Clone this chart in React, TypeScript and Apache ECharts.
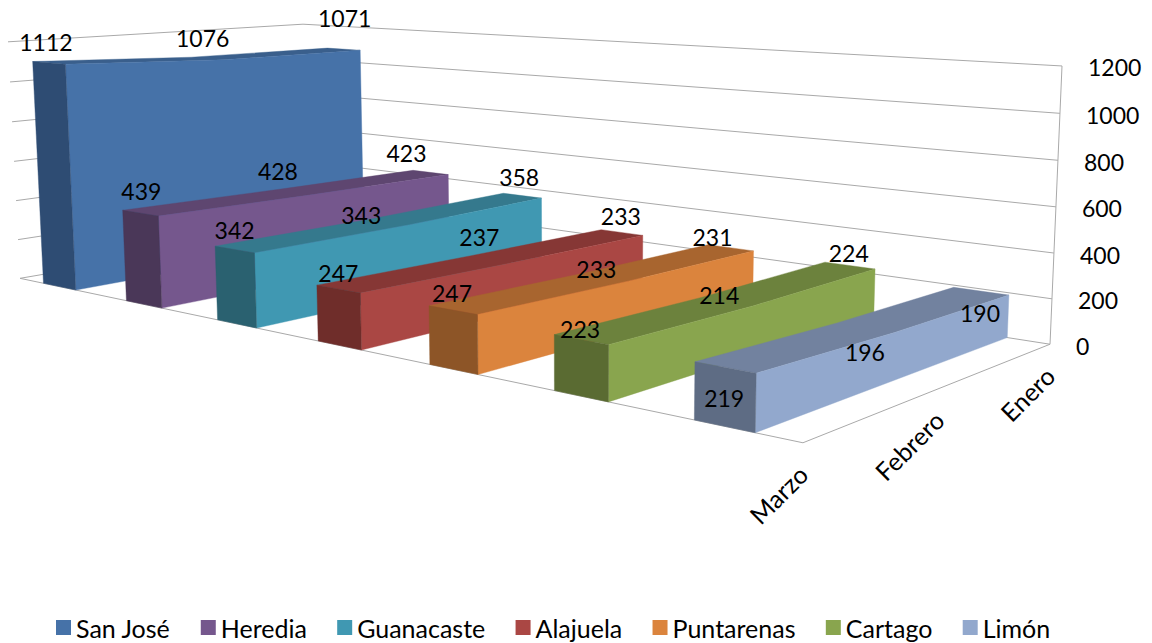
import React, { useEffect, useRef } from "react";
import * as echarts from "echarts";

const months = ["Marzo", "Febrero", "Enero"];
const yTicks = [0, 200, 400, 600, 800, 1000, 1200];
const regions = ["San José", "Heredia", "Guanacaste", "Alajuela", "Puntarenas", "Cartago", "Limón"];
const sanJose = [1112, 1076, 1071];
const heredia = [439, 428, 423];
const guanacaste = [342, 343, 358];
const alajuela = [247, 237, 233];
const puntarenas = [247, 233, 231];
const cartago = [223, 214, 224];
const limon = [219, 196, 190];
const values = [sanJose, heredia, guanacaste, alajuela, puntarenas, cartago, limon];

const litColors = ["#4672A8", "#75578D", "#4098B2", "#AA4744", "#DB843D", "#89A54E", "#92A8CD"];
const topColors = ["#3A5F8C", "#5E4670", "#35798D", "#863735", "#A8652F", "#6C823D", "#72829F"];
const capColors = ["#2E4C73", "#4A3758", "#2A6170", "#6F2D2A", "#8D5527", "#5A6B32", "#5E6C84"];

// how far each value label sits from the top of its ribbon, in pixels
const labelNudges: number[][][] = [
  [[-3, -21], [-5, -20], [1, -31]],
  [[1, -22], [-19, -21], [-24, -19]],
  [[0, -19], [-29, -7], [-3, -19]],
  [[0, -16], [-13, -22], [-1, -17]],
  [[-1, -17], [-8, -8], [-18, -11]],
  [[-1, -11], [-9, -6], [-1, -13]],
  [[-1, 31], [-1, 24], [-1, 22]],
];

const FONT = "Lato";
const GRID_W = 1000;
const GRID_H = 600;

// camera calibration: (series pos, category pos, height) -> wall corners on screen
const calib: number[][] = [
  [0, 0, 0, 20, 278],
  [1, 0, 0, 803, 443],
  [1, 1, 0, 1050, 344],
  [0, 1, 0, 308, 229],
  [0, 0, 1, 8, 42],
  [1, 1, 1, 1062, 66],
  [0, 1, 1, 303, 24],
];

function solveCamera(): number[] {
  const rows: number[][] = [];
  const rhs: number[] = [];
  for (const [s, c, h, x, y] of calib) {
    rows.push([s, c, h, 1, 0, 0, 0, 0, -x * s, -x * c, -x * h]);
    rhs.push(x);
    rows.push([0, 0, 0, 0, s, c, h, 1, -y * s, -y * c, -y * h]);
    rhs.push(y);
  }
  const n = 11;
  const A: number[][] = [];
  for (let i = 0; i < n; i++) {
    A.push(new Array(n + 1).fill(0));
    for (let j = 0; j < n; j++) for (let r = 0; r < rows.length; r++) A[i][j] += rows[r][i] * rows[r][j];
    for (let r = 0; r < rows.length; r++) A[i][n] += rows[r][i] * rhs[r];
  }
  for (let i = 0; i < n; i++) {
    let p = i;
    for (let k = i + 1; k < n; k++) if (Math.abs(A[k][i]) > Math.abs(A[p][i])) p = k;
    [A[i], A[p]] = [A[p], A[i]];
    for (let k = 0; k < n; k++) {
      if (k === i) continue;
      const f = A[k][i] / A[i][i];
      for (let j = i; j <= n; j++) A[k][j] -= f * A[i][j];
    }
  }
  return A.map((r, i) => r[n] / r[i]);
}
const cam = solveCamera();
function project(s: number, c: number, h: number): number[] {
  const w = cam[8] * s + cam[9] * c + cam[10] * h + 1;
  return [(cam[0] * s + cam[1] * c + cam[2] * h + cam[3]) / w, (cam[4] * s + cam[5] * c + cam[6] * h + cam[7]) / w];
}
const unit = (api: any, cat: number, v: number) => {
  const p = api.coord([cat, v]);
  return [p[0] / GRID_W, (GRID_H - p[1]) / GRID_H];
};
const BAR_LOW = 0.3;
const BAR_HIGH = 0.7;

function areaSeries(idx: number) {
  const s0 = (idx + BAR_LOW) / regions.length;
  const s1 = (idx + BAR_HIGH) / regions.length;
  return {
    type: "custom",
    name: regions[idx],
    coordinateSystem: "cartesian2d",
    itemStyle: { color: litColors[idx] },
    encode: { x: 0, y: 1 },
    data: values[idx].map((v, i) => [i, v]),
    renderItem: (params: any, api: any) => {
      if (params.dataIndexInside !== 0) return null;
      const pts: number[][] = [];
      for (let k = 0; k < params.dataInsideLength; k++) pts.push(unit(api, api.value(0, k), api.value(1, k)));
      const first = pts[0];
      const last = pts[pts.length - 1];
      const poly = (points: number[][], fill: string) => ({
        type: "polygon",
        shape: { points },
        style: { fill, stroke: fill, lineWidth: 0.4 },
      });
      return {
        type: "group",
        children: [
          poly(
            [...pts.map(([c, h]) => project(s0, c, h)), ...pts.slice().reverse().map(([c, h]) => project(s1, c, h))],
            topColors[idx]
          ),
          poly(
            [project(s1, first[0], 0), project(s1, last[0], 0), ...pts.slice().reverse().map(([c, h]) => project(s1, c, h))],
            litColors[idx]
          ),
          poly(
            [project(s0, first[0], 0), project(s1, first[0], 0), project(s1, first[0], first[1]), project(s0, first[0], first[1])],
            capColors[idx]
          ),
        ],
      };
    },
  };
}

const wallSeries = {
  type: "custom",
  name: "walls",
  coordinateSystem: "cartesian2d",
  encode: { x: 0, y: 1 },
  silent: true,
  data: yTicks.map((t) => [0, t]),
  renderItem: (_: any, api: any) => {
    const [, h] = unit(api, 0, api.value(1));
    const stroke = "#a9a9a9";
    const children: any[] = [
      {
        type: "polyline",
        shape: { points: [project(0, 0, h), project(0, 1, h), project(1, 1, h)] },
        style: { stroke, fill: "none", lineWidth: 1 },
      },
    ];
    const end = project(1, 1, h);
    children.push({
      type: "text",
      x: end[0] + 26,
      y: end[1] + 1.5,
      style: { text: String(api.value(1)), font: `23px ${FONT}`, fill: "#000", align: "left", verticalAlign: "middle" },
    });
    if (h === 0) {
      children.push({
        type: "polyline",
        shape: { points: [project(0, 0, 0), project(1, 0, 0), project(1, 1, 0), project(1, 1, 1)] },
        style: { stroke, fill: "none", lineWidth: 1 },
      });
    }
    return { type: "group", children };
  },
};

const monthSeries = {
  type: "custom",
  name: "months",
  coordinateSystem: "cartesian2d",
  encode: { x: 0, y: 1 },
  silent: true,
  z: 5,
  data: months.map((_, i) => [i, 0]),
  renderItem: (_: any, api: any) => {
    const [c] = unit(api, api.value(0), 0);
    const p = project(1, c, 0);
    return {
      type: "text",
      x: p[0],
      y: p[1] + 27,
      rotation: Math.PI / 4,
      style: { text: months[api.value(0)], font: `25px ${FONT}`, fill: "#000", align: "right", verticalAlign: "middle" },
    };
  },
};

const labelData: number[][] = [];
values.forEach((row, si) => row.forEach((v, i) => labelData.push([i, v, si])));
const labelSeries = {
  type: "custom",
  name: "values",
  coordinateSystem: "cartesian2d",
  encode: { x: 0, y: 1 },
  silent: true,
  z: 10,
  data: labelData,
  renderItem: (_: any, api: any) => {
    const [c, h] = unit(api, api.value(0), api.value(1));
    const si = api.value(2);
    const p = project((si + 0.5) / regions.length, c, h);
    const nudge = labelNudges[si][api.value(0)];
    return {
      type: "text",
      x: p[0] + nudge[0],
      y: p[1] + nudge[1],
      style: { text: String(api.value(1)), font: `23px ${FONT}`, fill: "#000", align: "center", verticalAlign: "middle" },
    };
  },
};

export default function App() {
  const ref = useRef<HTMLDivElement>(null);
  useEffect(() => {
    document.body.style.margin = "0";
    const chart = echarts.init(ref.current!, undefined, { renderer: "svg" });
    chart.setOption({
      animation: false,
      backgroundColor: "#fff",
      grid: { left: 0, top: 0, width: GRID_W, height: GRID_H },
      xAxis: { type: "category", data: months, boundaryGap: false, show: false },
      yAxis: { type: "value", min: 0, max: 1200, interval: 200, show: false },
      legend: {
        data: regions,
        left: 56,
        top: 615,
        padding: 0,
        icon: "rect",
        itemWidth: 15,
        itemHeight: 15,
        itemGap: 30.3,
        selectedMode: false,
        textStyle: { fontFamily: FONT, fontSize: 25, color: "#000" },
      },
      series: [wallSeries, ...regions.map((_, i) => areaSeries(i)), monthSeries, labelSeries],
    });
    return () => chart.dispose();
  }, []);
  return <div ref={ref} style={{ position: "absolute", left: 0, top: 0, width: 1152, height: 643, overflow: "hidden" }} />;
}
